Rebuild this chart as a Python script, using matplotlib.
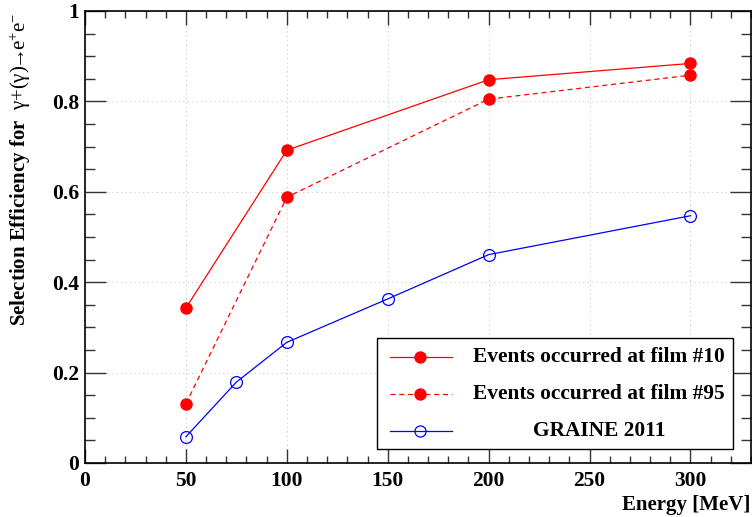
import matplotlib
matplotlib.use("Agg")
import matplotlib.pyplot as plt
from matplotlib.lines import Line2D
from matplotlib.patches import Rectangle
from matplotlib.ticker import MultipleLocator, FuncFormatter

plt.rcParams['font.family'] = ['Liberation Serif', 'DejaVu Serif']
plt.rcParams['mathtext.fontset'] = 'custom'
plt.rcParams['mathtext.rm'] = 'Liberation Serif'
plt.rcParams['mathtext.it'] = 'Liberation Serif:italic'
plt.rcParams['mathtext.bf'] = 'Liberation Serif:bold'

# energies [MeV] and selection efficiencies
energy_red = [50, 100, 200, 300]
eff_film10 = [0.343, 0.692, 0.848, 0.884]
eff_film95 = [0.131, 0.588, 0.805, 0.858]

energy_graine = [50, 75, 100, 150, 200, 300]
eff_graine = [0.058, 0.179, 0.267, 0.363, 0.461, 0.547]

labels = ["Events occurred at film #10", "Events occurred at film #95", "GRAINE 2011"]

fig = plt.figure(figsize=(7.52, 5.17), dpi=100)
ax = fig.add_axes([85 / 752, 1 - 463 / 517, (751 - 85) / 752, (463 - 11) / 517])

ax.plot(energy_red, eff_film10, color='red', lw=0.9, marker='o', ms=8,
        mfc='red', mec='red', zorder=3)
ax.plot(energy_red, eff_film95, color='red', lw=0.9, ls=(0, (4, 3)), marker='o', ms=8,
        mfc='red', mec='red', zorder=3)
ax.plot(energy_graine, eff_graine, color='blue', lw=0.9, marker='o', ms=8.5,
        mfc='none', mec='blue', mew=0.9, zorder=3)

ax.set_xlim(0, 330)
ax.set_ylim(0, 1)
ax.xaxis.set_major_locator(MultipleLocator(50))
ax.xaxis.set_minor_locator(MultipleLocator(10))
ax.yaxis.set_major_locator(MultipleLocator(0.2))
ax.yaxis.set_minor_locator(MultipleLocator(0.05))
ax.yaxis.set_major_formatter(FuncFormatter(lambda v, p: f"{v:g}"))

ax.grid(True, which='major', color='#c8c8c8', ls=(0, (1, 3)), lw=0.8)
ax.tick_params(which='both', direction='in', top=True, right=True, color='#333333')
ax.tick_params(axis='x', which='major', length=10, width=1, pad=6)
ax.tick_params(axis='x', which='minor', length=5, width=1)
ax.tick_params(axis='y', which='major', length=15, width=1, pad=4)
ax.tick_params(axis='y', which='minor', length=7.5, width=1)
for lab in ax.get_xticklabels() + ax.get_yticklabels():
    lab.set_fontsize(15.5)
    lab.set_fontweight('bold')
for s in ax.spines.values():
    s.set_linewidth(1.2)

ax.set_xlabel("Energy [MeV]", fontsize=15, fontweight='bold', ha='right')
ax.xaxis.set_label_coords((750 - 85) / 666, -(505 - 463) / 452)
ax.xaxis.label.set_va('center')
ax.set_ylabel(r"$\mathbf{Selection\ Efficiency\ for}\ \ \mathrm{γ{+}(γ)\!→\!e^{+}e^{-}}$",
              fontsize=15, ha='right')
ax.yaxis.set_label_coords(-(85 - 20) / 666, 1 + (11 - 13) / 452)
ax.yaxis.label.set_va('center')

# legend box drawn by hand so the last label can be centred like the original
lx0, lx1 = (377 - 85) / 666, (733 - 85) / 666
ly0, ly1 = (463 - 449) / 452, (463 - 338) / 452
ax.add_patch(Rectangle((lx0, ly0), lx1 - lx0, ly1 - ly0, transform=ax.transAxes,
                       facecolor='white', edgecolor='black', lw=1, zorder=5))
styles = [dict(color='red', ls='-', mfc='red', mec='red'),
          dict(color='red', ls=(0, (4, 3)), mfc='red', mec='red'),
          dict(color='blue', ls='-', mfc='none', mec='blue')]
rows = [(463 - 357) / 452, (463 - 394) / 452, (463 - 431) / 452]
sx0, sx1, smid = (390 - 85) / 666, (452 - 85) / 666, (420 - 85) / 666
for lab, st, yy in zip(labels, styles, rows):
    ax.add_line(Line2D([sx0, sx1], [yy, yy], transform=ax.transAxes, lw=0.9,
                       color=st['color'], ls=st['ls'], zorder=6))
    ax.add_line(Line2D([smid], [yy], transform=ax.transAxes, marker='o', ms=8,
                       mfc=st['mfc'], mec=st['mec'], mew=0.9, zorder=7))
    if lab == "GRAINE 2011":
        ax.text((599 - 85) / 666, yy, lab, transform=ax.transAxes, ha='center', va='center',
                fontsize=15.4, fontweight='bold', zorder=7)
    else:
        ax.text((473 - 85) / 666, yy, lab, transform=ax.transAxes, ha='left', va='center',
                fontsize=15.4, fontweight='bold', zorder=7)

fig.savefig("out.png", dpi=100)
